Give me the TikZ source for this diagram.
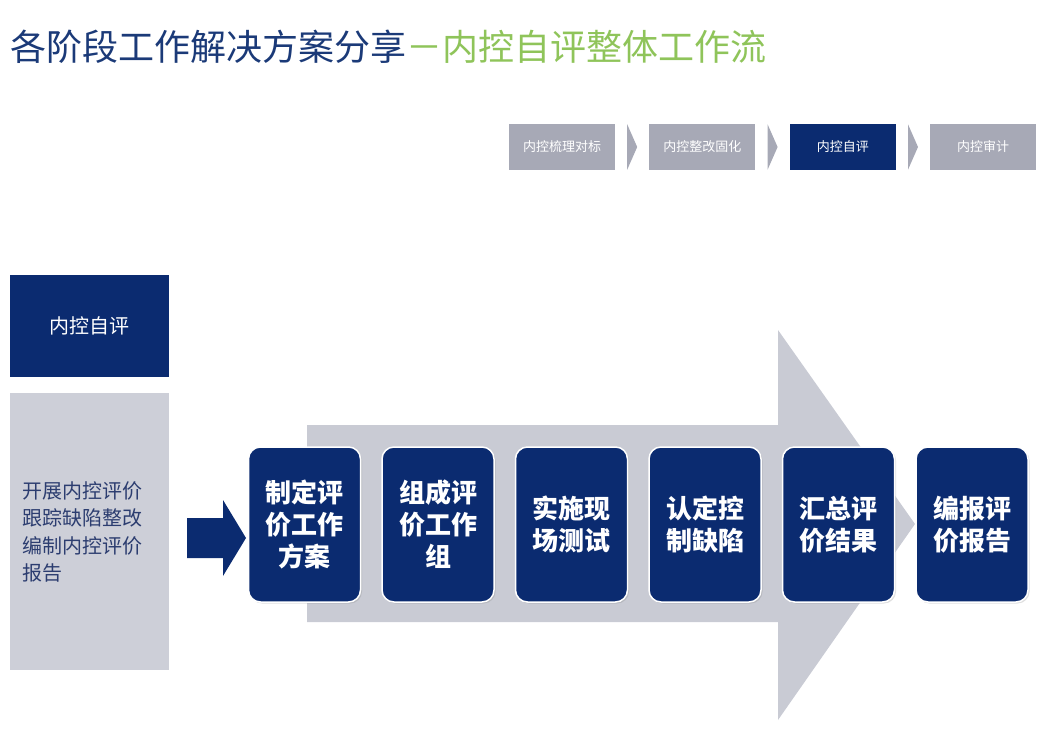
\documentclass[tikz,border=0pt]{standalone}
\usepackage{fontspec}
\setmainfont{Noto Sans CJK SC}
\definecolor{CtrlNavy}{HTML}{0B2B70}
\definecolor{TitleBlue}{HTML}{1B3A78}
\definecolor{TitleGreen}{HTML}{8FC45A}
\definecolor{CrumbGrey}{HTML}{A7A9B6}
\definecolor{PanelGrey}{HTML}{CDCFD8}
\definecolor{FlowGrey}{HTML}{C9CBD4}
\definecolor{DescBlue}{HTML}{2C3D70}
\usetikzlibrary{positioning, calc, shadows}

\begin{document}
\begin{tikzpicture}[x=1pt, y=-1pt,
  crumb/.style={fill=CrumbGrey, minimum width=106pt, minimum height=45pt,
    inner sep=0pt, text=white, font=\fontsize{13}{15}\selectfont},
  stagebox/.style={draw=white, line width=1.5pt, fill=CtrlNavy,
    rounded corners=12pt, minimum width=112pt, minimum height=155pt,
    inner sep=0pt, align=center, text=white,
    font=\fontsize{26}{32}\selectfont\bfseries,
    drop shadow={opacity=0.25, shadow xshift=1.5pt, shadow yshift=-1.5pt}}]
  \useasboundingbox (0,0) rectangle (1060,741);

  % Title
  \node (title) [anchor=west, inner sep=0pt, font=\fontsize{36}{40}\selectfont]
    at (10,47) {\color{TitleBlue}各阶段工作解决方案分享\color{TitleGreen}－内控自评整体工作流};

  % Stage crumbs
  \node (crumb1) [crumb] at (562,147) {内控梳理对标};
  \node (crumb2) [crumb, right=34pt of crumb1] {内控整改固化};
  \node (crumb3) [crumb, right=34pt of crumb2, fill=CtrlNavy] {内控自评};
  \node (crumb4) [crumb, right=34pt of crumb3] {内控审计};
  \foreach \a in {1,2,3} {
    \fill[CrumbGrey] ($(crumb\a.north east)+(12,0)$) -- ($(crumb\a.east)+(22,0)$)
      -- ($(crumb\a.south east)+(12,0)$) -- cycle;
  }

  % Left panel
  \node (selfeval) [fill=CtrlNavy, minimum width=159pt, minimum height=102pt,
    inner sep=0pt, text=white, font=\fontsize{20}{24}\selectfont] at (89.5,326) {内控自评};
  \node (desc) [fill=PanelGrey, minimum width=159pt, minimum height=277pt,
    inner xsep=12pt, text width=135pt, align=left, text=DescBlue,
    font=\fontsize{20}{27.5}\selectfont, below=16pt of selfeval]
    {开展内控评价\\跟踪缺陷整改\\编制内控评价\\报告};

  % Entry arrow
  \fill[CtrlNavy] (187,518) -- (223,518) -- (223,500) -- (246,538)
    -- (223,576) -- (223,558) -- (187,558) -- cycle;

  % Big flow arrow
  \fill[FlowGrey] (307,425) -- (778,425) -- (778,330) -- (915,524)
    -- (778,720) -- (778,622) -- (307,622) -- cycle;

  % Work steps
  \node (step1) [stagebox] at (304.5,524.5) {制定评\\价工作\\方案};
  \node (step2) [stagebox, right=20pt of step1] {组成评\\价工作\\组};
  \node (step3) [stagebox, right=20pt of step2] {实施现\\场测试};
  \node (step4) [stagebox, right=20pt of step3] {认定控\\制缺陷};
  \node (step5) [stagebox, right=20pt of step4] {汇总评\\价结果};
  \node (step6) [stagebox, right=20pt of step5] {编报评\\价报告};
\end{tikzpicture}
\end{document}
